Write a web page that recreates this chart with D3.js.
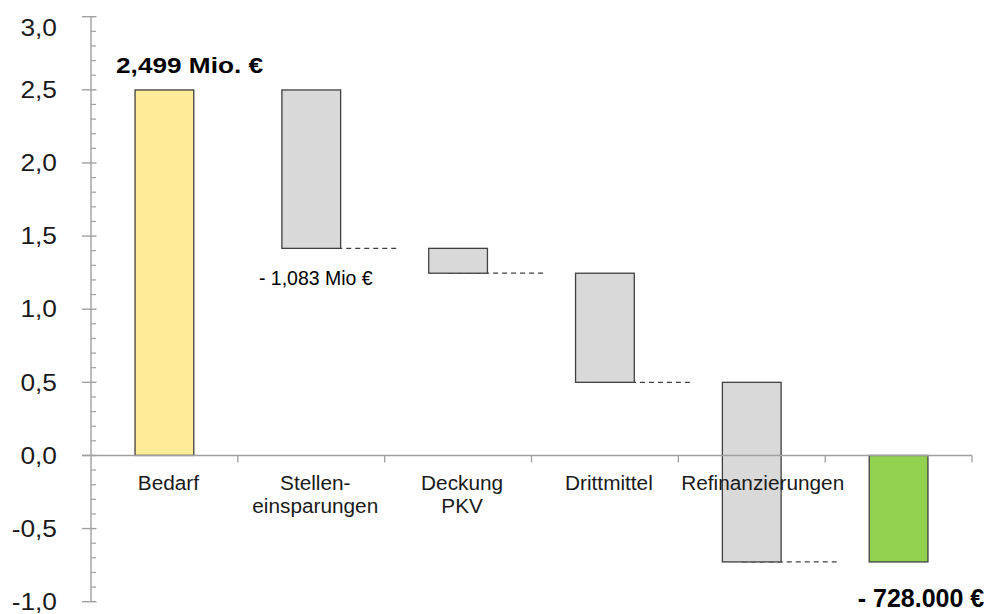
<!DOCTYPE html>
<html>
<head>
<meta charset="utf-8">
<script src="https://cdn.jsdelivr.net/npm/d3@7"></script>
<style>
  html, body { margin: 0; padding: 0; background: #fff; }
  svg { display: block; font-family: "Liberation Sans", Arial, sans-serif; }
</style>
</head>
<body>
<svg id="chart" width="995" height="614"></svg>
<script>
// Waterfall: Bedarf, reductions, remaining gap (Mio. €)
const categories = ["Bedarf", "Stelleneinsparungen", "Deckung PKV", "Drittmittel", "Refinanzierungen", "Ergebnis"];
const categoryLabels = [["Bedarf"], ["Stellen-", "einsparungen"], ["Deckung", "PKV"], ["Drittmittel"], ["Refinanzierungen"], []];
const startValue = 2.499;
const changes = [-1.083, -0.170, -0.746, -1.228];
const resultValue = -0.728;
const yTicks = [-1.0, -0.5, 0.0, 0.5, 1.0, 1.5, 2.0, 2.5, 3.0];
const annotationTexts = ["2,499 Mio. €", "- 1,083 Mio €", "- 728.000 €"];

const svg = d3.select("#chart");
const fmt = v => d3.format(".1f")(v).replace(".", ",").replace("−", "-");

const x = d3.scaleBand().domain(categories).range([91, 972]).paddingInner(0.6).paddingOuter(0.3);
const y = d3.scaleLinear().domain([-1, 3]).range([601.7, 16.7]);

// build bar segments
const bars = [];
bars.push({ cat: categories[0], y0: 0, y1: startValue, kind: "start" });
let running = startValue;
changes.forEach((c, i) => {
  const next = running + c;
  bars.push({ cat: categories[i + 1], y0: running, y1: next, kind: "step", end: next });
  running = next;
});
bars.push({ cat: categories[5], y0: 0, y1: resultValue, kind: "result" });

const fills = { start: "#FFEC99", step: "#D9D9D9", result: "#92D050" };
const cx = c => x(c) + x.bandwidth() / 2;

// dashed connectors at each running total (behind the bars)
svg.append("g").selectAll("line").data(bars.filter(d => d.kind === "step")).join("line")
  .attr("x1", d => cx(d.cat) - 10)
  .attr("x2", d => cx(d.cat) + 87)
  .attr("y1", d => y(d.end))
  .attr("y2", d => y(d.end))
  .attr("stroke", "#404040")
  .attr("stroke-width", 1.2)
  .attr("stroke-dasharray", "5,4");

// bars
svg.append("g").selectAll("rect").data(bars).join("rect")
  .attr("x", d => x(d.cat))
  .attr("width", x.bandwidth())
  .attr("y", d => y(Math.max(d.y0, d.y1)))
  .attr("height", d => Math.abs(y(d.y0) - y(d.y1)))
  .attr("fill", d => fills[d.kind])
  .attr("stroke", "#404040")
  .attr("stroke-width", 1.3);

// value axis
const axisColor = "#A0A0A0";
const ax = svg.append("g");
ax.append("line").attr("x1", 91).attr("x2", 91).attr("y1", y(3)).attr("y2", y(-1))
  .attr("stroke", axisColor).attr("stroke-width", 1.4);
const minor = d3.range(-10, 31).map(v => v / 10).filter(v => Math.abs(v * 2 - Math.round(v * 2)) > 1e-6);
ax.selectAll("line.minor").data(minor).join("line").attr("class", "minor")
  .attr("x1", 91).attr("x2", 96).attr("y1", d => y(d)).attr("y2", d => y(d))
  .attr("stroke", axisColor).attr("stroke-width", 1.2);
ax.selectAll("line.major").data(yTicks).join("line").attr("class", "major")
  .attr("x1", 82).attr("x2", 96.5).attr("y1", d => y(d)).attr("y2", d => y(d))
  .attr("stroke", axisColor).attr("stroke-width", 1.4);
ax.selectAll("text").data(yTicks).join("text")
  .attr("transform", d => `translate(57,${Math.max(y(d), 27.7) + 8.2}) scale(1.12,1)`)
  .attr("text-anchor", "end")
  .attr("font-size", 23.5)
  .attr("fill", "#1a1a1a")
  .text(d => fmt(d));

// category axis along zero
const y0 = y(0);
const cat = svg.append("g");
cat.append("line").attr("x1", 82).attr("x2", 972).attr("y1", y0).attr("y2", y0)
  .attr("stroke", axisColor).attr("stroke-width", 1.4);
const step = x.step();
cat.selectAll("line.tick").data(d3.range(1, categories.length + 1)).join("line").attr("class", "tick")
  .attr("x1", i => 91 + i * step).attr("x2", i => 91 + i * step)
  .attr("y1", y0).attr("y2", y0 + 7)
  .attr("stroke", axisColor).attr("stroke-width", 1.3);
const lab = cat.selectAll("text").data(categories).join("text")
  .attr("text-anchor", "middle")
  .attr("font-size", 20)
  .attr("fill", "#1a1a1a")
  .attr("transform", (d, i) => `translate(${cx(d) + (i === 4 ? 11 : 4)},490) scale(1.04,1)`);
lab.selectAll("tspan").data((d, i) => categoryLabels[i]).join("tspan")
  .attr("x", 0).attr("dy", (d, i) => i === 0 ? 0 : 23).text(d => d);

// annotations
const b0 = bars[0], b1 = bars[1], bEnd = bars[bars.length - 1];
svg.append("text")
  .attr("x", x(b0.cat) - 19).attr("y", y(b0.y1) - 17.3)
  .attr("font-size", 21.5).attr("font-weight", "bold").attr("fill", "#000")
  .attr("textLength", 147).attr("lengthAdjust", "spacingAndGlyphs")
  .text(annotationTexts[0]);
svg.append("text")
  .attr("x", x(b1.cat) - 23).attr("y", y(b1.y1) + 36.7)
  .attr("font-size", 19.5).attr("fill", "#000")
  .text(annotationTexts[1]);
svg.append("text")
  .attr("x", x(bEnd.cat) - 11.5).attr("y", y(bEnd.y1) + 45)
  .attr("font-size", 25).attr("font-weight", "bold").attr("fill", "#000")
  .text(annotationTexts[2]);
</script>
</body>
</html>
